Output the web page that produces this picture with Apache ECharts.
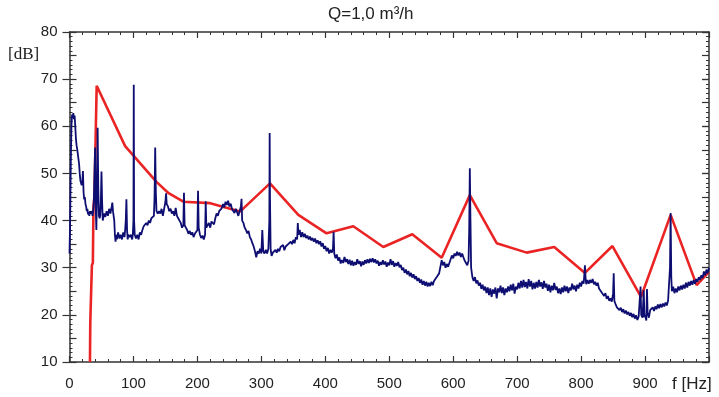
<!DOCTYPE html>
<html><head><meta charset="utf-8">
<script src="https://cdn.jsdelivr.net/npm/echarts@6/dist/echarts.min.js"></script>
<style>html,body{margin:0;padding:0;background:#fff}#c{width:719px;height:397px}</style>
</head><body><div id="c"></div>
<script>
var titleText = "Q=1,0 m³/h";
var yUnit = "[dB]";
var xUnit = "f [Hz]";
var xTicks = [0,100,200,300,400,500,600,700,800,900];

// red envelope (Hz, dB)
var redLine = [[32,10],[32.5,18.3],[34.5,18.5],[35,30.5],[36.5,31],[37.5,43],[39,45],[42.5,68.6],[87,55.8],[136,48.2],[155,45.8],[178,44],[220,43.7],[266.6,41.9],[313.5,47.9],[357.8,41.2],[402,37.3],[443.8,38.8],[490.7,34.4],[536,37.1],[582,32.1],[626,45.4],[668,35.2],[715,33.2],[758,34.4],[806,28.9],[849,34.6],[893.7,23.8],[940,41.2],[980.7,26.3],[1000,29.1]];

// blue measured spectrum (Hz, dB)
var blueLine = [[0,33],[1,40],[2,52],[3,60],[4,62.5],[5,61.8],[6,62.8],[7,61.5],[8,62.3],[9,60],[10,57.5],[11,56],[12,55.2],[13,55.5],[14,54.8],[15,52],[16,50],[17,48.5],[18,48.2],[19,47.5],[20,48],[21,50.5],[22,46],[23,44.5],[24,45],[25,43.5],[26,43],[27,42],[28,42.5],[29,41.3],[30,41.8],[31,41],[32,42],[33,41.5],[34,41.2],[35,42],[36,41],[37,42],[38,44],[40,55.5],[41,43],[42,38],[43,46],[44,59.7],[45,47],[46,41],[47,40.5],[48,41],[49,44],[50,50.4],[51,44],[52,40],[54,41.5],[56,40.8],[58,42],[60,41],[62,42.5],[64,41.5],[66,43],[67,43.8],[68,42],[70,40],[71,37],[72,35.5],[73,37],[74,36],[76,37.5],[78,36.2],[80,37],[82,36],[84,37.5],[86,36.5],[87,38],[88,40],[89,44.5],[90,38],[91,36],[92,37],[94,36.5],[96,37],[98,36],[99,37],[100,40],[100.5,68.8],[101,40],[102,37],[104,36.2],[106,37],[108,36],[110,37.5],[112,37],[114,38],[116,38.8],[118,38.5],[120,39.5],[122,39],[124,40],[126,39.5],[128,40.5],[130,40.8],[132,41],[133,45],[134,55.5],[135,46],[136,42],[138,41.5],[140,42],[142,41.5],[144,42.5],[146,41],[148,42.5],[150,44],[151,45.8],[152,43.5],[154,43],[156,42],[158,42.5],[160,41.5],[162,42],[164,41],[166,42.7],[168,41],[170,40.5],[172,40],[174,39.5],[176,38.5],[178,39],[179,45.9],[180,39],[182,38.5],[184,38],[186,37.2],[188,37.8],[190,37],[192,37.5],[194,36.5],[196,37.2],[198,37],[200,38],[201,46.3],[202,38.5],[204,37],[206,36.3],[208,36.8],[210,36],[212,37],[213,44.1],[214,38.5],[216,38.8],[218,39.5],[220,38.5],[222,39.8],[224,40],[226,39.2],[228,40.5],[230,41.5],[232,41],[234,42],[236,41.8],[238,42.6],[240,43.5],[242,42.8],[244,44],[246,43.3],[248,44.2],[250,43],[252,43.6],[254,42.5],[256,42.8],[258,41.6],[260,42.5],[262,41.8],[264,41],[266,42],[268,43],[269,44.6],[270,40],[272,39.5],[274,38.5],[276,38],[278,37.3],[280,37.8],[282,36.5],[284,36],[286,35.2],[288,34.5],[290,33.5],[292,32.2],[294,33.5],[296,33],[298,34],[300,33],[301.5,38],[303,33.5],[305,33],[307,33.8],[309,33],[311,34],[312.5,40],[313,58.6],[313.5,45],[314.5,34],[316,32.5],[318,33.2],[320,33],[322,33.8],[324,33.2],[326,34],[328,33.5],[330,34.4],[332,34],[334,34.8],[336,33.7],[338,34.5],[340,34.2],[342,35],[344,34.6],[346,35.5],[348,35],[350,35.9],[352,35.2],[354,36.5],[356,36],[357,39.5],[358,37],[360,38],[362,36.5],[364,37.5],[366,36.5],[368,37.2],[370,36.3],[372,36.8],[374,36],[376,36.6],[378,35.8],[380,36.3],[382,35.5],[384,36.2],[386,35.2],[388,35.8],[390,35],[392,35.6],[394,34.5],[396,35.2],[398,34],[400,34.6],[402,33.5],[404,34.2],[406,33],[408,33.8],[410,33.2],[412,34],[413,37.6],[414,33],[416,32],[418,32.8],[420,31.5],[422,32.2],[424,30.9],[426,31.6],[428,31],[430,32.3],[432,31.2],[434,31.8],[436,30.8],[438,31.7],[440,30.5],[442,31.5],[444,30.4],[446,31.2],[448,30.6],[450,31.8],[452,30.8],[454,31.4],[456,30.3],[458,31.3],[460,30.6],[462,31.6],[464,30.9],[466,31.8],[468,31],[470,31.9],[472,31.2],[474,32],[476,31.1],[478,31.8],[480,30.9],[482,31.5],[484,30.4],[486,31.2],[488,30.6],[490,31.6],[492,30.7],[494,31.3],[496,30.2],[498,31.1],[500,30.5],[502,31.8],[504,30.6],[506,31.4],[508,30.2],[510,31],[512,30.4],[514,31.2],[516,30.1],[518,30.6],[520,29.5],[522,30],[524,28.9],[526,29.6],[528,28.6],[530,29.3],[532,28.2],[534,28.9],[536,27.9],[538,28.6],[540,27.6],[542,28.2],[544,27.2],[546,27.8],[548,26.8],[550,27.5],[552,26.4],[554,27.2],[556,26.2],[558,27],[560,26],[562,26.8],[564,26.1],[566,27],[568,26.3],[570,27.2],[572,27],[574,28],[576,27.8],[578,28.8],[580,28.5],[582,31.6],[584,30.5],[586,31.2],[588,30],[590,30.8],[592,30.2],[594,31],[596,31.8],[598,32.6],[600,32],[602,33],[604,32.5],[606,33.4],[608,32.6],[610,33.2],[612,32.3],[614,33],[616,32.2],[618,31.5],[620,31],[622,30.5],[624,31.5],[625,38],[626,51.1],[627,40],[628,30],[630,28],[632,27.2],[634,28],[636,26.7],[638,27.3],[640,26.2],[642,26.8],[644,25.5],[646,26.4],[648,25.2],[650,26],[652,24.6],[654,25.8],[656,24.2],[658,25.6],[660,23.8],[662,25.4],[664,24.5],[666,25.8],[668,23.5],[670,25.6],[672,24.8],[674,26.2],[676,24.6],[678,25.8],[680,24.2],[682,25.6],[684,24.8],[686,26],[688,25],[690,26.4],[692,25.2],[694,26.6],[696,24.5],[698,26],[700,25.4],[702,26.8],[704,25.6],[706,27.2],[708,25.8],[710,27.4],[712,25.9],[714,27],[716,25.6],[718,27.6],[720,26],[722,27.2],[724,25.4],[726,26.8],[728,25.6],[730,27],[732,25.8],[734,27.4],[736,26],[738,26.9],[740,25.5],[742,27.2],[744,25.8],[746,26.6],[748,25.1],[750,26.4],[752,24.8],[754,26.2],[756,25.2],[758,26.8],[760,25.3],[762,26],[764,24.6],[766,25.6],[768,24.4],[770,25.8],[772,24.8],[774,26.2],[776,25],[778,26],[780,24.6],[782,25.8],[784,25.2],[786,26.6],[788,25.4],[790,26.2],[792,25],[794,26.4],[796,25.6],[798,26.8],[800,26],[802,27.2],[804,26.6],[805,28.5],[806,30.5],[807,27.8],[808,26.5],[810,27.4],[812,26.6],[814,27.4],[816,26.8],[818,27.6],[820,26.5],[822,27],[824,26.2],[826,26.8],[828,25.6],[830,26],[832,24.8],[834,25.2],[836,24],[838,24.6],[840,23.4],[842,24],[844,23],[846,23.5],[848,22.8],[850,24.5],[851,28.8],[852,23],[854,22.2],[856,21.6],[858,22],[860,21],[862,21.5],[864,20.6],[866,21.2],[868,20.3],[870,20.9],[872,20.1],[874,20.6],[876,19.8],[878,20.4],[880,19.5],[882,20.2],[884,19.2],[886,19.9],[888,18.9],[890,19.6],[892,19.8],[893,26],[894,20],[896,19.4],[898,25.2],[899,19.5],[900,20],[902,18.8],[903,25.5],[904,20.5],[906,19.4],[908,21],[910,20.6],[912,21.6],[914,20.8],[916,21.8],[918,21.2],[920,22.2],[922,21.4],[924,22.3],[926,21.6],[928,22.4],[930,21.8],[932,22.6],[934,22],[936,23],[938,23.4],[939,30],[940,41.6],[941,28],[942,25],[944,26],[946,24.6],[948,25.6],[950,24.8],[952,26],[954,25.2],[956,26.2],[958,25.4],[960,26.4],[962,25.6],[964,26.8],[966,25.8],[968,27],[970,26.2],[972,27.2],[974,26.4],[976,27.4],[978,26.6],[980,27.6],[982,27],[984,28],[986,27.4],[988,28.4],[990,27.8],[992,29.2],[994,28.4],[996,29.6],[998,28.8],[1000,30]];

var chart = echarts.init(document.getElementById('c'), null, {renderer:'canvas'});
var axisCol = '#333';
var labelFont = 'Liberation Sans, Arial, sans-serif';
function xAx(pos, showLabel){
  return {type:'value', position:pos, min:0, max:1000, interval:100,
    axisLine:{show:true, onZero:false, lineStyle:{color:axisCol, width:1.5}},
    axisTick:{show:true, inside:true, length:6, lineStyle:{color:axisCol, width:1.2}},
    minorTick:{show:true, splitNumber:5, length:3, lineStyle:{color:axisCol, width:1}},
    splitLine:{show:false},
    axisLabel:{show:showLabel, fontSize:15, color:'#222', fontFamily:labelFont, margin:14,
      formatter:function(v){return xTicks.indexOf(v)>=0 ? String(v) : '';}}
  };
}
function yAx(pos, interval, inside, len, minorSplit, showLabel, showLine){
  return {type:'value', position:pos, min:10, max:80, interval:interval,
    axisLine:{show:showLine, onZero:false, lineStyle:{color:axisCol, width:1.5}},
    axisTick:{show:true, inside:inside, length:len, lineStyle:{color:axisCol, width:1.2}},
    minorTick:{show:minorSplit>0, splitNumber:minorSplit||5, length:3, lineStyle:{color:axisCol, width:1}},
    splitLine:{show:false},
    axisLabel:{show:showLabel, fontSize:15, color:'#222', fontFamily:labelFont, margin:12}
  };
}
chart.setOption({
  animation:false,
  backgroundColor:'#fff',
  grid:{left:69.5, right:10, top:32, bottom:35, containLabel:false},
  xAxis:[xAx('bottom', true), xAx('top', false)],
  yAxis:[yAx('left',10,false,7,0,true,true), yAx('left',5,true,7,5,false,false),
         yAx('right',10,true,7,0,false,true), yAx('right',5,true,7,5,false,false)],
  graphic:[
    {type:'text', left:328, top:6, style:{text:titleText, font:'17px Liberation Sans, Arial, sans-serif', fill:'#222'}},
    {type:'text', left:8, top:46, style:{text:yUnit, font:'17px Liberation Serif, Times New Roman, serif', fill:'#222'}},
    {type:'text', left:672, top:376, style:{text:xUnit, font:'17px Liberation Sans, Arial, sans-serif', fill:'#222'}}
  ],
  series:[
    {type:'line', name:'red', data:redLine, xAxisIndex:0, yAxisIndex:0, showSymbol:false, symbol:'none',
      lineStyle:{color:'#ea2424', width:2.6}, z:2},
    {type:'line', name:'blue', data:blueLine, xAxisIndex:0, yAxisIndex:0, showSymbol:false, symbol:'none',
      lineStyle:{color:'#0e0e72', width:1.8}, z:3}
  ]
});
</script></body></html>
